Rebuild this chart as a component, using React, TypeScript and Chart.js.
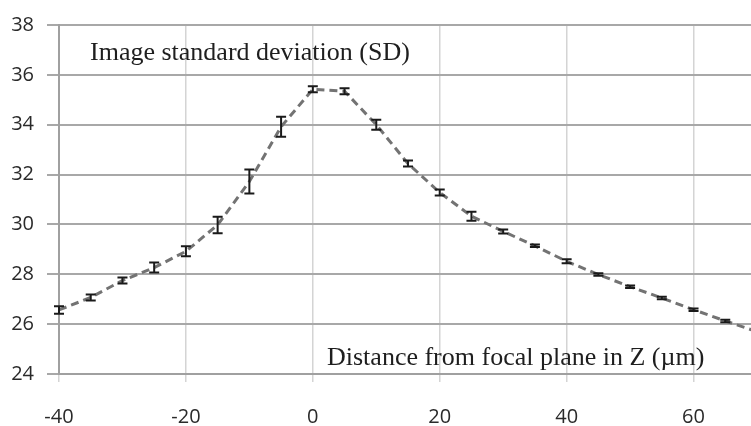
import React, { useEffect, useRef } from "react";
import { Chart, registerables } from "chart.js";

Chart.register(...registerables);

const zValues = [-40, -35, -30, -25, -20, -15, -10, -5, 0, 5, 10, 15, 20, 25, 30, 35, 40, 45, 50, 55, 60, 65, 70];
const sdValues = [26.57, 27.07, 27.75, 28.27, 28.92, 29.98, 31.72, 33.92, 35.42, 35.34, 34.0, 32.44, 31.28, 30.33, 29.72, 29.14, 28.52, 27.99, 27.5, 27.05, 26.58, 26.13, 25.7];
const sdErrors = [0.15, 0.12, 0.12, 0.2, 0.2, 0.33, 0.48, 0.4, 0.12, 0.12, 0.2, 0.12, 0.12, 0.18, 0.08, 0.05, 0.08, 0.05, 0.05, 0.05, 0.05, 0.05, 0.05];
const xTickValues = [-40, -20, 0, 20, 40, 60];
const yTickValues = [24, 26, 28, 30, 32, 34, 36, 38];
const topLabel = "Image standard deviation (SD)";
const bottomLabel = "Distance from focal plane in Z (µm)";

const errorBarPlugin = {
  id: "errorBars",
  afterDatasetsDraw(chart: any) {
    const { ctx, scales, chartArea } = chart;
    const xs = scales.x;
    const ys = scales.y;
    ctx.save();
    ctx.beginPath();
    ctx.rect(chartArea.left - 10, chartArea.top - 5, chartArea.right - chartArea.left + 10, chartArea.bottom - chartArea.top + 10);
    ctx.clip();
    ctx.strokeStyle = "#1a1a1a";
    ctx.lineWidth = 2;
    zValues.forEach((z, i) => {
      const px = xs.getPixelForValue(z);
      const top = ys.getPixelForValue(sdValues[i] + sdErrors[i]);
      const bot = ys.getPixelForValue(sdValues[i] - sdErrors[i]);
      ctx.beginPath();
      ctx.moveTo(px, top);
      ctx.lineTo(px, bot);
      ctx.moveTo(px - 5, top);
      ctx.lineTo(px + 5, top);
      ctx.moveTo(px - 5, bot);
      ctx.lineTo(px + 5, bot);
      ctx.stroke();
    });
    ctx.restore();
  },
};

const labelPlugin = {
  id: "textLabels",
  afterDraw(chart: any) {
    const { ctx } = chart;
    ctx.save();
    ctx.fillStyle = "#1e1e1e";
    ctx.font = "26px 'Liberation Serif', 'Times New Roman', serif";
    ctx.textBaseline = "alphabetic";
    ctx.textAlign = "left";
    ctx.fillText(topLabel, 90, 60);
    ctx.fillText(bottomLabel, 327, 365);
    ctx.restore();
  },
};

export default function App() {
  const ref = useRef<HTMLCanvasElement>(null);
  useEffect(() => {
    document.body.style.margin = "0";
    const chart = new Chart(ref.current!, {
      type: "line",
      data: {
        datasets: [
          {
            data: zValues.map((z, i) => ({ x: z, y: sdValues[i] })),
            borderColor: "#737373",
            borderWidth: 3,
            borderDash: [8, 5],
            pointRadius: 0,
            tension: 0,
            fill: false,
          },
        ],
      },
      options: {
        animation: false,
        responsive: false,
        events: [],
        layout: { padding: { top: 22, right: 0, left: 0, bottom: 0 } },
        plugins: { legend: { display: false }, tooltip: { enabled: false } },
        scales: {
          x: {
            type: "linear",
            min: -40,
            max: 70,
            afterBuildTicks: (s: any) => {
              s.ticks = xTickValues.map((v) => ({ value: v }));
            },
            afterFit: (s: any) => {
              s.height = 52;
            },
            ticks: {
              font: { family: "'Open Sans', sans-serif", size: 20 },
              color: "#2a2a2a",
              padding: 23,
              maxRotation: 0,
            },
            grid: { color: "#d4d4d4", lineWidth: 1.5, tickLength: 8 },
            border: { color: "#a0a0a0", width: 2 },
          },
          y: {
            min: 24,
            max: 38,
            afterBuildTicks: (s: any) => {
              s.ticks = yTickValues.map((v) => ({ value: v }));
            },
            afterFit: (s: any) => {
              s.width = 59;
            },
            ticks: {
              font: { family: "'Open Sans', sans-serif", size: 20 },
              color: "#2a2a2a",
              padding: 13,
            },
            grid: { color: "#a8a8a8", lineWidth: 2, tickLength: 12 },
            border: { color: "#a0a0a0", width: 2 },
          },
        },
      },
      plugins: [errorBarPlugin, labelPlugin],
    });
    return () => chart.destroy();
  }, []);
  return (
    <div style={{ position: "absolute", left: 0, top: 0, width: 751, height: 426, overflow: "hidden", background: "#fff" }}>
      <canvas ref={ref} width={757} height={426} style={{ display: "block" }} />
    </div>
  );
}
